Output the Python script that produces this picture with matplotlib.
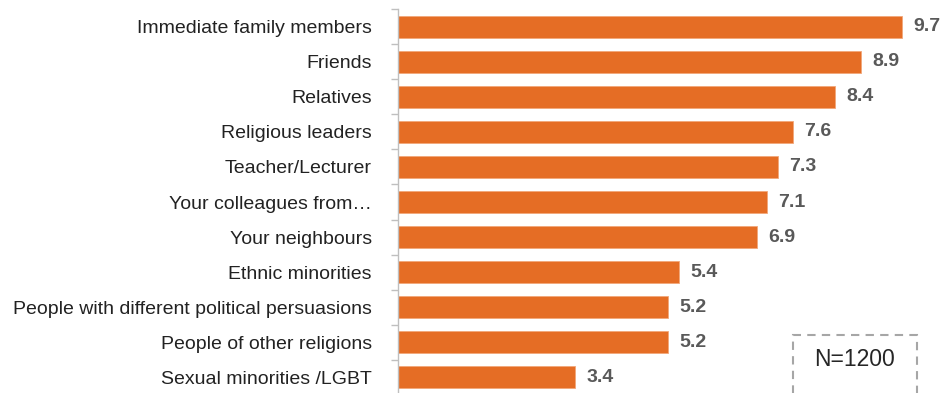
import matplotlib.pyplot as plt
from matplotlib.patches import FancyBboxPatch

plt.rcParams['font.family'] = ['Liberation Sans', 'DejaVu Sans']

groups = ['Immediate family members', 'Friends', 'Relatives', 'Religious leaders',
          'Teacher/Lecturer', 'Your colleagues from\u2026', 'Your neighbours',
          'Ethnic minorities', 'People with different political persuasions',
          'People of other religions', 'Sexual minorities /LGBT']
scores = [9.7, 8.9, 8.4, 7.6, 7.3, 7.1, 6.9, 5.4, 5.2, 5.2, 3.4]

fig = plt.figure(figsize=(9.48, 3.93), dpi=100)
ax = fig.add_axes([0.42, -0.004, 0.58, 0.98])

pos = list(range(len(groups)))
ax.barh(pos, scores, height=0.63, color='#E56D25', edgecolor='#F2A77A', linewidth=0.6)
for y, v in zip(pos, scores):
    ax.text(v + 0.22, y, f'{v:.1f}', va='center', ha='left',
            fontsize=14, fontweight='bold', color='#595959')

ax.set_xlim(0, 10.58)
ax.set_ylim(len(groups) - 0.5, -0.5)
ax.set_yticks(pos)
ax.set_yticklabels(groups, fontsize=14, color='#222222')
ax.set_yticks([p - 0.5 for p in range(len(groups) + 1)], minor=True)
ax.tick_params(axis='y', which='major', length=0, pad=19)
ax.tick_params(axis='y', which='minor', length=5, color='#BFBFBF', width=1)
ax.set_xticks([])
for s in ['top', 'right', 'bottom']:
    ax.spines[s].set_visible(False)
ax.spines['left'].set_color('#BFBFBF')
ax.spines['left'].set_linewidth(1)

# sample size box, open at the bottom edge of the figure
box = FancyBboxPatch((793 / 948, -10 / 393), 124 / 948, 68 / 393,
                     boxstyle='square,pad=0', transform=fig.transFigure,
                     fill=False, edgecolor='#A6A6A6', linestyle=(0, (4, 3)), linewidth=1.5)
fig.patches.append(box)
fig.text(855 / 948, 1 - 360 / 393, 'N=1200', ha='center', va='center',
         fontsize=16.5, color='#262626')

fig.savefig('out.png', dpi=100)
